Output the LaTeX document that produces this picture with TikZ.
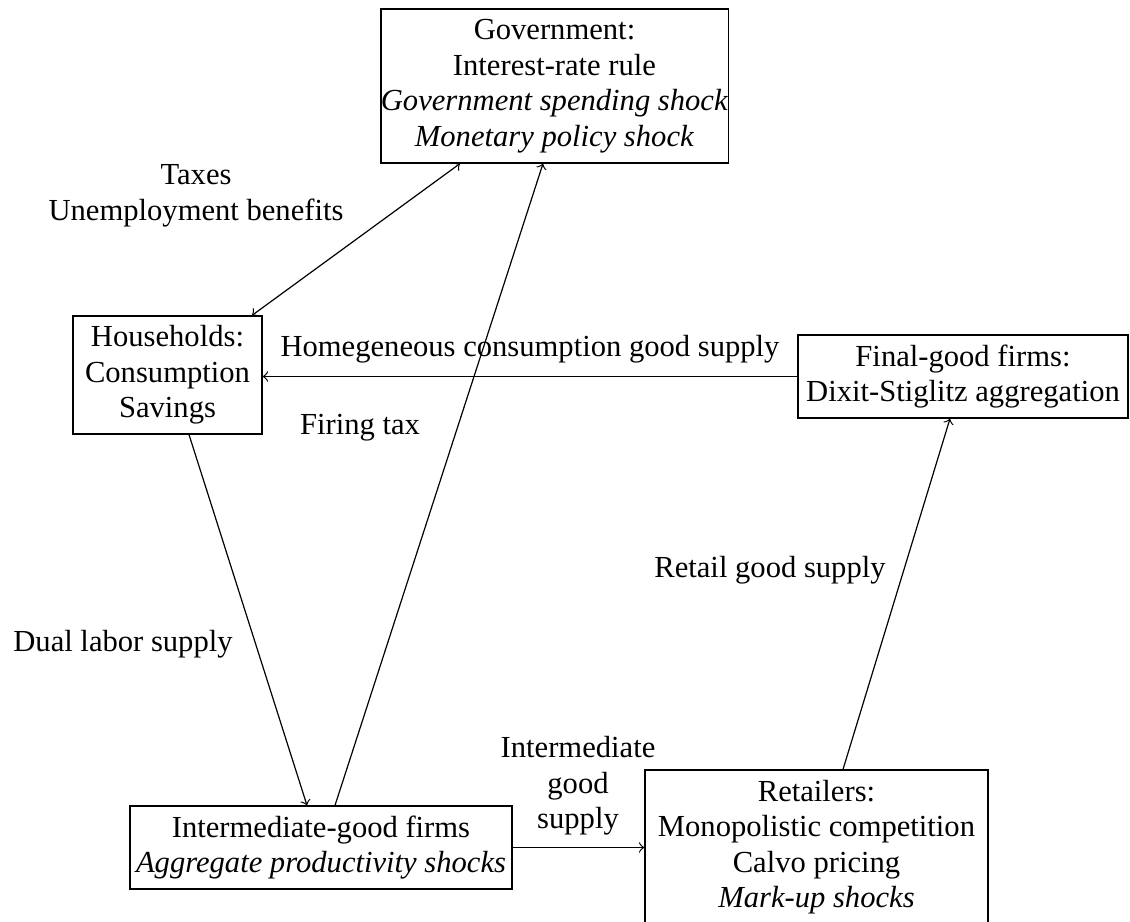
\documentclass[tikz,border=0pt]{standalone}
\usepackage{fontspec}
\setmainfont{Liberation Serif}
\usetikzlibrary{calc}
\newcommand\myfs{\fontsize{10.2}{11.83}\selectfont}
\begin{document}
\begin{tikzpicture}[x=0.3333pt,y=-0.3333pt,
  box/.style={draw, align=center, inner sep=0pt, font=\myfs},
  lab/.style={align=center, inner sep=0pt, font=\myfs},
  arr/.style={->}]
\useasboundingbox (0,0) rectangle (1130,922);
% boxes
\node[box, minimum width=111pt, minimum height=51.33pt] (gov) at (554.5,86)
  {Government:\\Interest-rate rule\\\textit{Government spending shock}\\\textit{Monetary policy shock}};
\node[box, minimum width=63pt, minimum height=39.33pt] (hh) at (167.5,375)
  {Households:\\Consumption\\Savings};
\node[box, minimum width=110pt, minimum height=27.67pt] (fin) at (963,376.5)
  {Final-good firms:\\Dixit-Stiglitz aggregation};
\node[box, minimum width=127.33pt, minimum height=27.67pt] (int) at (321,847.5)
  {Intermediate-good firms\\\textit{Aggregate productivity shocks}};
\node[box, minimum width=114.33pt, minimum height=51.33pt] (ret) at (816.5,847)
  {Retailers:\\Monopolistic competition\\Calvo pricing\\\textit{Mark-up shocks}};
% connectors
\draw[<->] ($(gov.south)+(-94.5,0)$) -- ($(hh.north)+(84.5,0)$);
\draw[arr] ($(int.north)+(14,0)$) -- ($(gov.south)+(-11.5,0)$);
\draw[arr] ($(hh.south)+(21.5,0)$) -- ($(int.north)+(-14,0)$);
\draw[arr] (fin.west) -- (fin.west -| hh.east);
\draw[arr] (int.east) -- (int.east -| ret.west);
\draw[arr] ($(ret.north)+(26.5,0)$) -- ($(fin.south)+(-13,0)$);
% labels
\node[lab] (ltax) at (196,196) {Taxes\\Unemployment benefits};
\node[lab] (lhom) at (530,349) {Homegeneous consumption good supply};
\node[lab] (lfir) at (360,428) {Firing tax};
\node[lab] (ldual) at (123,644) {Dual labor supply};
\node[lab] (lret) at (770,570) {Retail good supply};
\node[lab] (lint) at (578,786) {Intermediate\\good\\supply};
\end{tikzpicture}
\end{document}
